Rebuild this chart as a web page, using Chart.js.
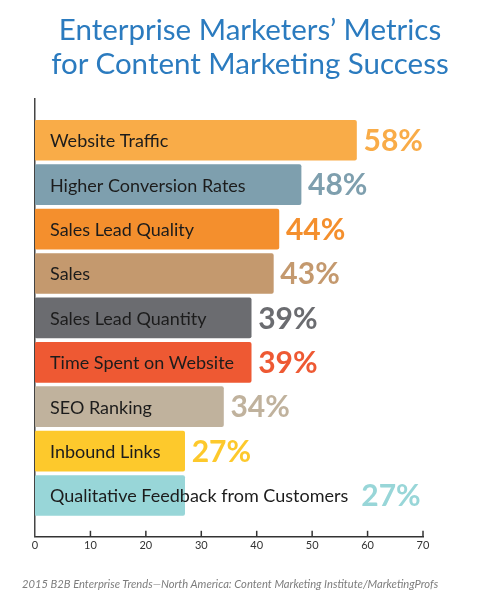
<!DOCTYPE html>
<html>
<head>
    <title>Enterprise Marketers' Metrics for Content Marketing Success</title>
    <script src="https://cdn.jsdelivr.net/npm/chart.js"></script>
    <style>
        body {
            margin: 0;
            background: #ffffff;
            font-family: Lato, sans-serif;
        }
        #wrap {
            position: relative;
            width: 500px;
            height: 595px;
        }
        #title {
            position: absolute;
            top: 12px;
            left: 0;
            width: 500px;
            text-align: center;
            color: #2b7bbf;
            font-size: 29.5px;
            line-height: 34px;
        }
        #source {
            position: absolute;
            top: 577px;
            left: 22px;
            color: #7d7d7d;
            font-size: 11.2px;
            font-style: italic;
        }
        canvas {
            position: absolute;
            top: 0;
            left: 0;
        }
    </style>
</head>
<body>
<div id="wrap">
    <canvas id="metricsChart" width="500" height="595"></canvas>
    <div id="title">Enterprise Marketers’ Metrics<br>for Content Marketing Success</div>
    <div id="source">2015 B2B Enterprise Trends—North America: Content Marketing Institute/MarketingProfs</div>
</div>

<script>
    // Metrics and share of marketers (%)
    const metrics = [
        'Website Traffic',
        'Higher Conversion Rates',
        'Sales Lead Quality',
        'Sales',
        'Sales Lead Quantity',
        'Time Spent on Website',
        'SEO Ranking',
        'Inbound Links',
        'Qualitative Feedback from Customers'
    ];
    const percents = [58, 48, 44, 43, 39, 39, 34, 27, 27];
    const barColors = ['#f9ac48', '#7e9fae', '#f48f2d', '#c4996e', '#6b6c70', '#ee5933', '#c0b29d', '#fdc92c', '#98d6d8'];
    const xTicks = [0, 10, 20, 30, 40, 50, 60, 70];

    // Category name inside the bar, percentage after it
    const barLabels = {
        id: 'barLabels',
        afterDatasetsDraw(chart) {
            const ctx = chart.ctx;
            const bars = chart.getDatasetMeta(0).data;
            ctx.save();
            ctx.textBaseline = 'middle';
            bars.forEach((bar, i) => {
                ctx.font = '18px Lato';
                ctx.fillStyle = '#1c1c1c';
                const tx = bar.base + 15;
                ctx.fillText(metrics[i], tx, bar.y + 1);
                const textEnd = tx + ctx.measureText(metrics[i]).width;
                const vx = Math.max(bar.x + 7, textEnd + 13);
                ctx.font = 'bold 30px Lato';
                ctx.fillStyle = barColors[i];
                ctx.fillText(percents[i] + '%', vx, bar.y + 1);
            });
            ctx.restore();
        }
    };

    // Small tick marks pointing up from the x axis line
    const innerTicks = {
        id: 'innerTicks',
        afterDraw(chart) {
            const ctx = chart.ctx;
            const xs = chart.scales.x;
            ctx.save();
            ctx.strokeStyle = '#333333';
            ctx.lineWidth = 1.5;
            xTicks.forEach(t => {
                if (t === 0) return;
                const px = xs.getPixelForValue(t);
                ctx.beginPath();
                ctx.moveTo(px, chart.chartArea.bottom);
                ctx.lineTo(px, chart.chartArea.bottom - 6);
                ctx.stroke();
            });
            ctx.restore();
        }
    };

    const ctx = document.getElementById('metricsChart').getContext('2d');
    const myChart = new Chart(ctx, {
        type: 'bar',
        data: {
            datasets: [{
                data: percents.map((v, i) => ({ x: v, y: i })),
                backgroundColor: barColors,
                barThickness: 40,
                borderRadius: 2,
                borderSkipped: false
            }]
        },
        options: {
            indexAxis: 'y',
            responsive: false,
            animation: false,
            layout: {
                padding: { top: 99, left: 35, right: 77, bottom: 41 }
            },
            plugins: {
                legend: { display: false },
                tooltip: { enabled: false }
            },
            scales: {
                x: {
                    type: 'linear',
                    min: 0,
                    max: 70,
                    afterBuildTicks: (scale) => {
                        scale.ticks = xTicks.map(v => ({ value: v }));
                    },
                    grid: { display: false, drawTicks: false },
                    border: { display: true, color: '#333333', width: 1.5 },
                    ticks: {
                        color: '#333333',
                        padding: 2,
                        font: { family: 'Lato', size: 11 }
                    }
                },
                y: {
                    type: 'linear',
                    reverse: true,
                    offset: false,
                    min: -0.93,
                    max: 8.93,
                    grid: { display: false, drawTicks: false, offset: false },
                    border: { display: true, color: '#444444', width: 1.5 },
                    ticks: { display: false }
                }
            }
        },
        plugins: [barLabels, innerTicks]
    });
</script>
</body>
</html>
